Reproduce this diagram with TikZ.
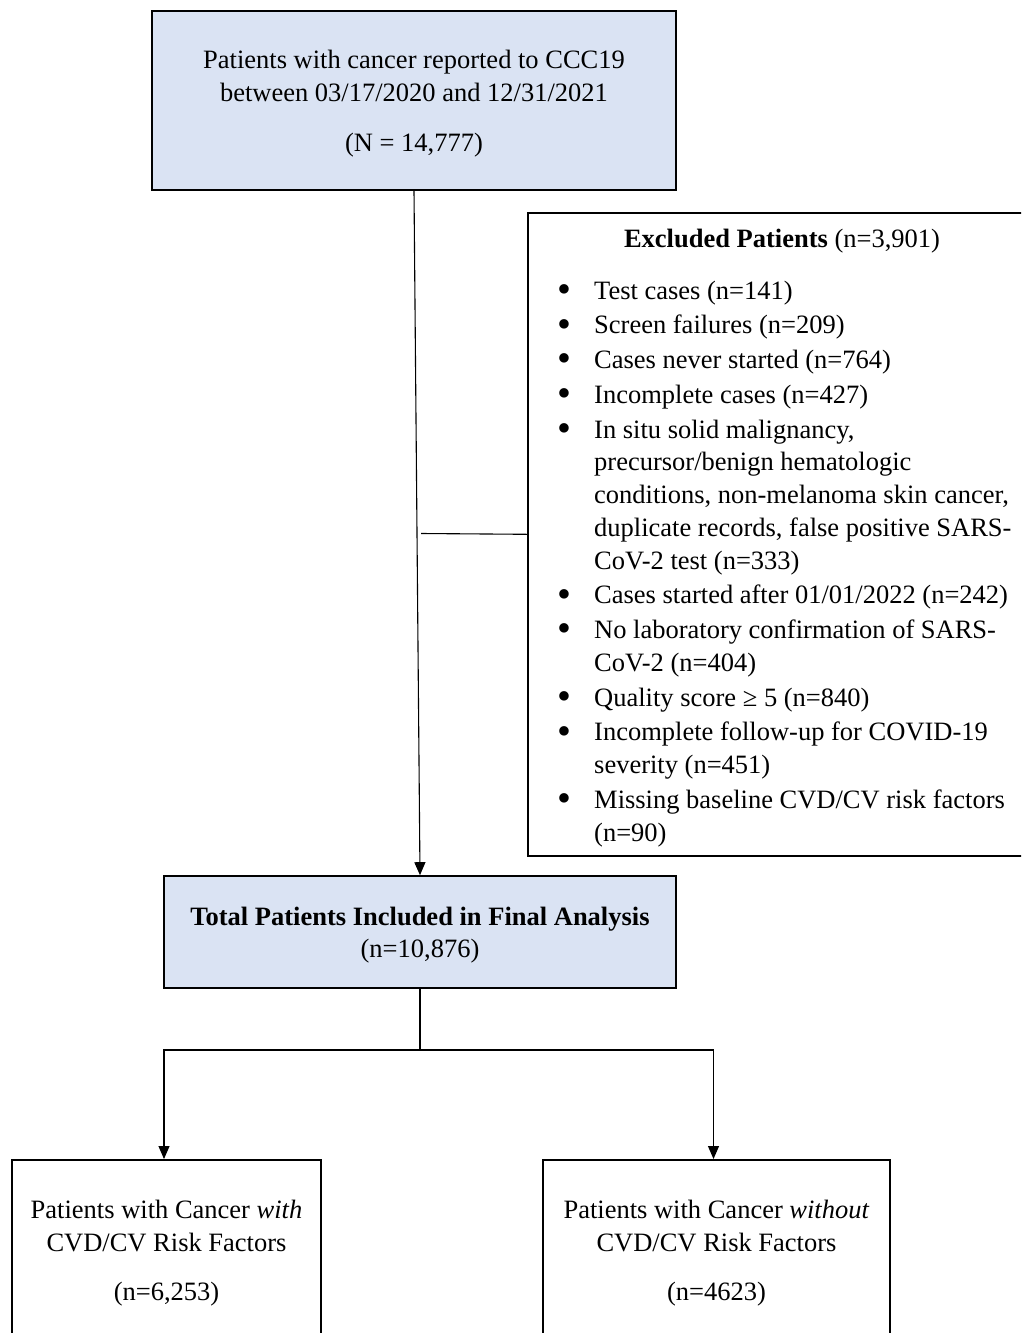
\documentclass[tikz,border=0pt]{standalone}
\usepackage{fontspec}
\usepackage{graphicx}
\setmainfont{Liberation Serif}
\usetikzlibrary{arrows.meta}
\definecolor{boxblue}{HTML}{DAE3F3}
\tikzstyle{bluebox} = [rectangle, draw=black, line width=1.6pt, fill=boxblue, align=center, inner sep=0pt]
\tikzstyle{plainbox} = [rectangle, draw=black, line width=1.6pt, fill=white, align=center, inner sep=0pt]
\tikzstyle{arrow} = [line width=1.1pt,-{Triangle[length=13pt,width=11pt]}]
\tikzstyle{line} = [line width=1.1pt]
\newcommand{\bul}{\makebox[37pt][l]{\raisebox{-0.12em}{\scalebox{1.5}{\textbullet}}}}

\begin{document}
\begin{tikzpicture}[x=1pt,y=-1pt,font=\fontsize{26.5}{32.75}\selectfont]
\useasboundingbox (0,0) rectangle (1021,1333);
\clip (0,0) rectangle (1021,1333);

\node[bluebox, minimum width=524, minimum height=179] (cohort) at (414,100.5) {};
\node[align=center, inner sep=0pt] (cohorttext) at ([yshift=-3pt]cohort.center) {Patients with cancer reported to CCC19\\between 03/17/2020 and 12/31/2021\\[17pt](N = 14,777)};

% excluded patients
\node[plainbox, minimum width=510, minimum height=643, anchor=north west] (excluded) at (527,212) {};
\node (exctitle) at (782,241) {\textbf{Excluded Patients} (n=3,901)};
\node[anchor=north west, inner sep=0pt, align=left] (exclist) at (557,276) {%
\begin{tabular}{@{}l@{}p{440pt}@{}}
\bul & Test cases (n=141)\\[2pt]
\bul & Screen failures (n=209)\\[2pt]
\bul & Cases never started (n=764)\\[2pt]
\bul & Incomplete cases (n=427)\\[2pt]
\bul & In situ solid malignancy,\newline precursor/benign hematologic\newline conditions, non-melanoma skin cancer,\newline duplicate records, false positive SARS-\newline CoV-2 test (n=333)\\[2pt]
\bul & Cases started after 01/01/2022 (n=242)\\[2pt]
\bul & No laboratory confirmation of SARS-\newline CoV-2 (n=404)\\[2pt]
\bul & Quality score ≥ 5 (n=840)\\[2pt]
\bul & Incomplete follow-up for COVID-19\newline severity (n=451)\\[2pt]
\bul & Missing baseline CVD/CV risk factors\newline (n=90)
\end{tabular}};

\node[bluebox, minimum width=512, minimum height=112] (total) at (420,932) {};
\node[align=center, inner sep=0pt] (totaltext) at ([yshift=-3pt]total.center) {\textbf{Total Patients Included in Final Analysis}\\(n=10,876)};

\node[plainbox, minimum width=309, minimum height=187, anchor=north] (withcv) at (166.5,1159) {Patients with Cancer \emph{with}\\CVD/CV Risk Factors\\[17pt](n=6,253)};
\node[plainbox, minimum width=347, minimum height=187, anchor=north] (withoutcv) at (716.5,1159) {Patients with Cancer \emph{without}\\CVD/CV Risk Factors\\[17pt](n=4623)};

\coordinate (split) at (421,533.5);
\coordinate (fork) at (420,1050);
\draw[arrow] (cohort.south) -- (total.north);
\draw[line] (split) -- (excluded.west);
\draw[line] (total.south) -- (fork);
\draw[arrow] (fork) -| ([xshift=-2.5pt]withcv.north);
\draw[arrow] (fork) -| ([xshift=-3pt]withoutcv.north);
\end{tikzpicture}
\end{document}
